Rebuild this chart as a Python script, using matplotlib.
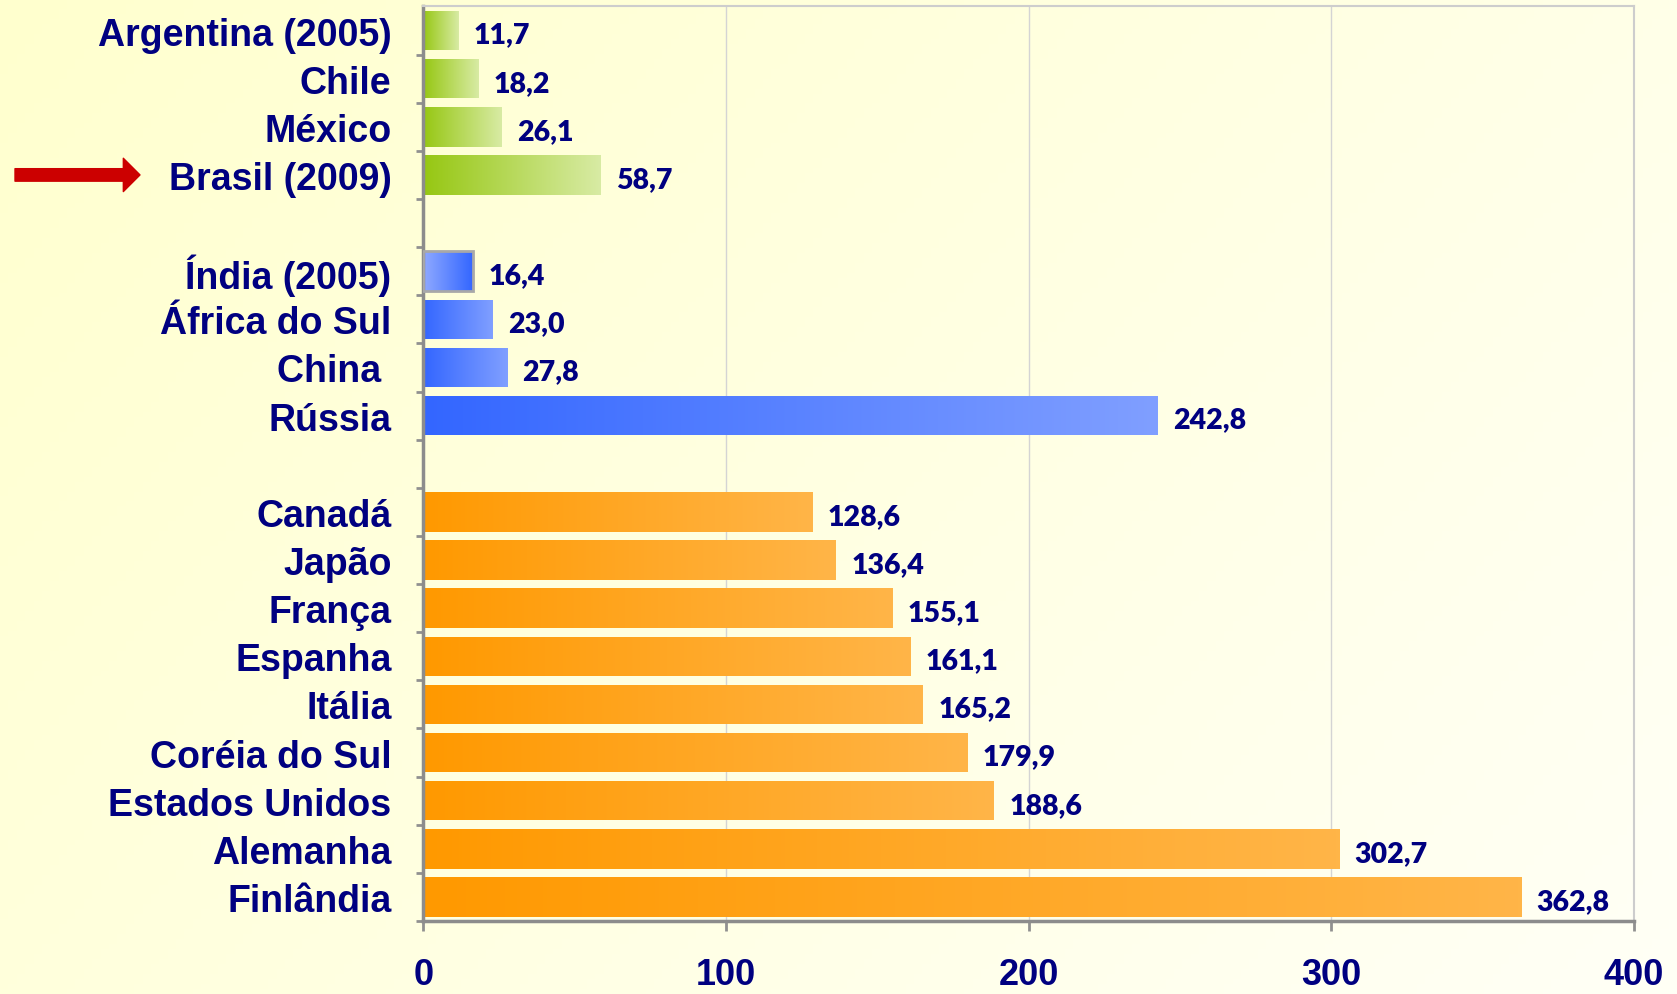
import numpy as np
import matplotlib.pyplot as plt
from matplotlib.colors import to_rgb
from matplotlib.transforms import blended_transform_factory

countries = ['Argentina (2005)', 'Chile', 'México', 'Brasil (2009)',
             'Índia (2005)', 'África do Sul', 'China ', 'Rússia',
             'Canadá', 'Japão', 'França', 'Espanha', 'Itália',
             'Coréia do Sul', 'Estados Unidos', 'Alemanha', 'Finlândia']
values = [11.7, 18.2, 26.1, 58.7,
          16.4, 23.0, 27.8, 242.8,
          128.6, 136.4, 155.1, 161.1, 165.2, 179.9, 188.6, 302.7, 362.8]
group = [0, 0, 0, 0, 1, 1, 1, 1, 2, 2, 2, 2, 2, 2, 2, 2, 2]
xticks = [0, 100, 200, 300, 400]

# gradient colours per group (left, right)
grad = {0: ('#96C712', '#D8EBA4'),
        1: ('#3366FF', '#809FFF'),
        2: ('#FF9900', '#FFB548')}
navy = '#000080'

fig = plt.figure(figsize=(16.77, 9.95), dpi=100)

# pale yellow background
bg = fig.add_axes([0, 0, 1, 1], zorder=-10)
yy, xx = np.mgrid[0:1:200j, 0:1:200j]
t = (xx * 0.65 + yy * 0.35)
c0 = np.array(to_rgb('#FFFFCE'))
c1 = np.array(to_rgb('#FFFFF6'))
bg.imshow(c0 + (c1 - c0) * t[..., None], aspect='auto', extent=[0, 1, 0, 1])
bg.axis('off')

ax = fig.add_axes([0.2525, 0.0734, 0.7219, 0.9191])
ax.set_facecolor('none')

ypos = np.arange(len(values)) + np.array(group)
bars = ax.barh(ypos, values, height=0.82, color='none', edgecolor='none', zorder=3)

for bar, g, name in zip(bars, group, countries):
    left, right = grad[g]
    if name.startswith('Índia'):
        left, right = '#90AAFF', '#3366FF'
        bar.set_edgecolor('#A8A8A8')
        bar.set_linewidth(2)
    x0, y0 = bar.get_x(), bar.get_y()
    w, h = bar.get_width(), bar.get_height()
    s = np.linspace(0, 1, 256)[None, :, None]
    img = np.array(to_rgb(left)) + (np.array(to_rgb(right)) - np.array(to_rgb(left))) * s
    im = ax.imshow(img, extent=[x0, x0 + w, y0 + h, y0], aspect='auto', zorder=2)
    im.set_clip_path(bar)

for y, v in zip(ypos, values):
    ax.annotate(f'{v:.1f}'.replace('.', ','), xy=(v, y), xytext=(15, -4),
                textcoords='offset pixels', va='center', ha='left',
                fontsize=20.5, fontweight='heavy', color=navy, family='Lato')

ax.set_xlim(0, 400)
ax.set_ylim(ypos[-1] + 0.5, -0.5)

ax.set_yticks(ypos)
ax.set_yticklabels(countries, fontsize=27, fontweight='bold', color=navy,
                   family='Liberation Sans')
ax.set_yticks(np.arange(-0.5, ypos[-1] + 0.6, 1.0)[:-1] + 1, minor=True)
ax.tick_params(axis='y', which='major', length=0, pad=23)
ax.tick_params(axis='y', which='minor', length=5, width=2, color='#909090', direction='out')

ax.set_xticks(xticks)
ax.set_xticklabels([str(v) for v in xticks], fontsize=26, fontweight='bold',
                   color=navy, family='Liberation Sans')
ax.tick_params(axis='x', length=7, width=2, color='#909090', pad=19)

ax.grid(axis='x', color='#D4D4D4', linewidth=1, zorder=0)
ax.set_axisbelow(True)
for side in ['top', 'right']:
    ax.spines[side].set_color('#CDCDCD')
    ax.spines[side].set_linewidth(1.5)
for side in ['left', 'bottom']:
    ax.spines[side].set_color('#8C8C8C')
    ax.spines[side].set_linewidth(2.5)

# red arrow pointing at Brasil
brasil = ypos[countries.index('Brasil (2009)')]
tr = blended_transform_factory(fig.transFigure, ax.transData)
ax.annotate('', xy=(140 / 1677, brasil), xytext=(15 / 1677, brasil),
            xycoords=tr, textcoords=tr, annotation_clip=False,
            arrowprops=dict(arrowstyle='simple,head_length=12,head_width=24,tail_width=9',
                            color='#CC0000', mutation_scale=1, shrinkA=0, shrinkB=0))

fig.savefig('out.png', dpi=100)
